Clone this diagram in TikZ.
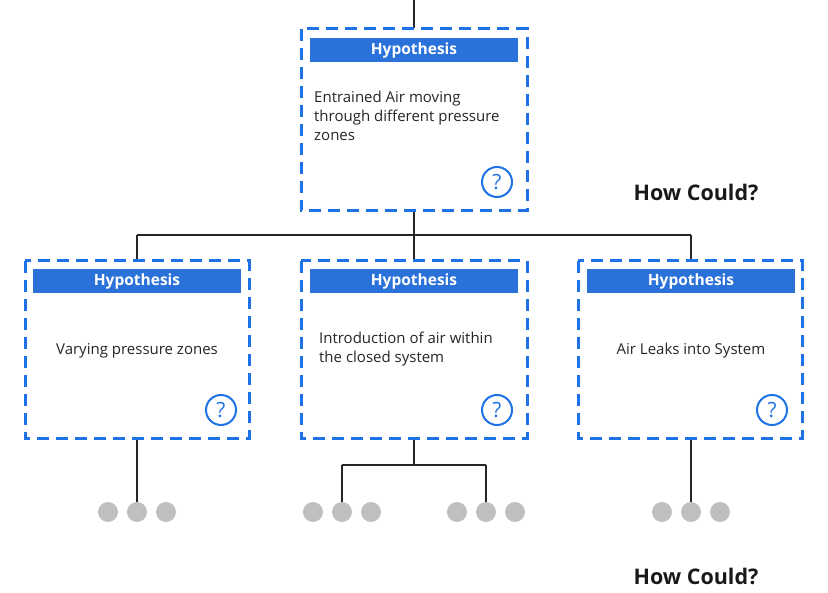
\documentclass[tikz,border=0pt]{standalone}
\usepackage{fontspec}
\setmainfont{Open Sans}
\begin{document}
\begin{tikzpicture}[x=1pt,y=-1pt,
  box/.style={draw=boxblue, line width=3pt, dash pattern=on 12pt off 7pt, fill=white},
  hdr/.style={fill=hdrblue, text=white, font=\bfseries\fontsize{15.5}{18}\selectfont, minimum width=208pt, minimum height=24pt, inner sep=0pt},
  txt/.style={font=\fontsize{15}{19}\selectfont, text=black!85, align=left},
  qm/.style={circle, draw=boxblue, line width=2pt, minimum size=30pt, inner sep=0pt, text=boxblue, font=\fontsize{21}{21}\selectfont},
  dot/.style={circle, fill=black!25, minimum size=20pt, inner sep=0pt},
  ln/.style={line width=1.6pt, black!85},
  hc/.style={font=\bfseries\fontsize{21.5}{24}\selectfont, text=black!90}]
\definecolor{boxblue}{HTML}{1F72E6}
\definecolor{hdrblue}{HTML}{2A72DA}
\useasboundingbox (0,0) rectangle (828,593);
\coordinate (top) at (414,0);
\coordinate (j) at (414,235);
\coordinate (jl) at (137,235);
\coordinate (jr) at (691,235);
\coordinate (mj) at (414,465);
\coordinate (mjl) at (342,465);
\coordinate (mjr) at (486,465);
\node[dot] (d1) at (108,512) {}; \node[dot] (d2) at (137,512) {}; \node[dot] (d3) at (166,512) {};
\node[dot] (d4) at (313,512) {}; \node[dot] (d5) at (342,512) {}; \node[dot] (d6) at (371,512) {};
\node[dot] (d7) at (457,512) {}; \node[dot] (d8) at (486,512) {}; \node[dot] (d9) at (515,512) {};
\node[dot] (d10) at (662,512) {}; \node[dot] (d11) at (691,512) {}; \node[dot] (d12) at (720,512) {};
\draw[ln] (top) -- (414,28);
\draw[ln] (414,212) -- (j);
\draw[ln] (jl) -- (jr);
\draw[ln] (jl) -- (137,260); \draw[ln] (j) -- (414,260); \draw[ln] (jr) -- (691,260);
\draw[ln] (137,440) -- (d2.north);
\draw[ln] (414,440) -- (mj); \draw[ln] (mjl) -- (mjr);
\draw[ln] (mjl) -- (d5.north); \draw[ln] (mjr) -- (d8.north);
\draw[ln] (691,440) -- (d11.north);
\draw[box] (301,29) rectangle (527,211);
\draw[box] (25,261) rectangle (249,439);
\draw[box] (301,261) rectangle (527,439);
\draw[box] (578,261) rectangle (802,439);
\node[hdr] (h0) at (414,50) {Hypothesis};
\node[hdr] (h1) at (137,281) {Hypothesis};
\node[hdr] (h2) at (414,281) {Hypothesis};
\node[hdr] (h3) at (691,281) {Hypothesis};
\node[txt, anchor=north west, inner sep=0pt] (t0) at (314,91) {Entrained Air moving\\through different pressure\\zones};
\node[txt] (t1) at (137,351) {Varying pressure zones};
\node[txt, anchor=north west, inner sep=0pt] (t2) at (319,332) {Introduction of air within\\the closed system};
\node[txt] (t3) at (691,351) {Air Leaks into System};
\node[qm] (q0) at (497,182) {?};
\node[qm] (q1) at (221,410) {?};
\node[qm] (q2) at (497,410) {?};
\node[qm] (q3) at (772,410) {?};
\node[hc] (hc1) at (696,192) {How Could?};
\node[hc] (hc2) at (696,576) {How Could?};
\end{tikzpicture}
\end{document}
